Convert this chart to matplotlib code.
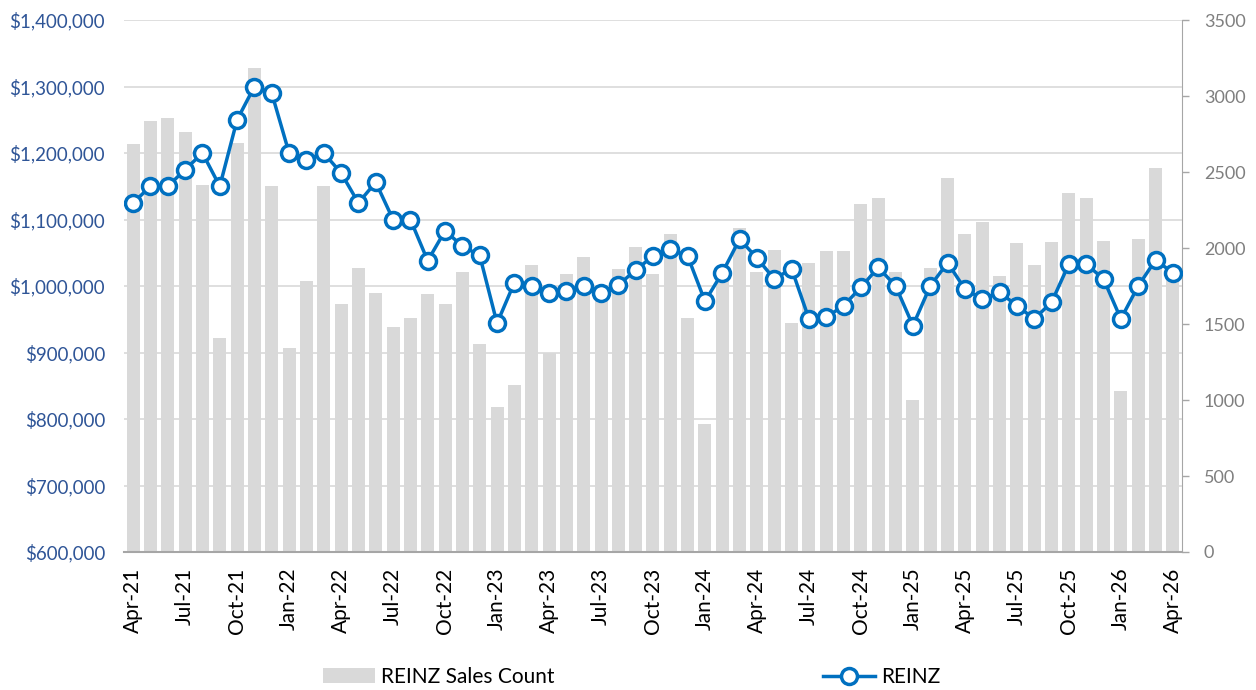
import matplotlib
matplotlib.use("Agg")
import matplotlib.pyplot as plt
from matplotlib.ticker import FuncFormatter, MultipleLocator
import pandas as pd

# ----------------------------
# Data
# ----------------------------
months = pd.date_range("2021-04-01", "2026-04-01", freq="MS").strftime("%b-%y").tolist()

sales_count = [2682, 2833, 2853, 2765, 2417, 1408, 2689, 3184, 2410, 1342, 1785, 2410,
               1632, 1871, 1706, 1480, 1537, 1697, 1629, 1842, 1368, 956, 1099, 1888,
               1310, 1829, 1943, 1720, 1864, 2009, 1827, 2090, 1542, 842, 1800, 2134,
               1844, 1987, 1504, 1903, 1982, 1980, 2289, 2329, 1842, 1000, 1866, 2458,
               2090, 2171, 1818, 2033, 1888, 2039, 2362, 2329, 2046, 1061, 2057, 2528,
               1800]

reinz_price = [1125000, 1150000, 1150000, 1175000, 1200000, 1150000, 1250000, 1300000,
               1290000, 1200000, 1190000, 1200000, 1170000, 1125000, 1156000, 1100000,
               1100000, 1038000, 1083000, 1060000, 1046000, 944000, 1005000, 1000000,
               990000, 993000, 1000000, 990000, 1001500, 1024000, 1045000, 1055000,
               1045000, 977000, 1020000, 1070500, 1042000, 1010500, 1026000, 950500,
               953000, 970500, 998000, 1028000, 1000000, 940500, 1000000, 1035000,
               995500, 980500, 990500, 970500, 950500, 975500, 1033000, 1033000,
               1010500, 950500, 1000000, 1039000, 1020000]

# ----------------------------
# Plot
# ----------------------------
plt.rcParams["font.family"] = ["Lato", "DejaVu Sans"]

fig = plt.figure(figsize=(12.56, 6.9), dpi=100)
ax = fig.add_axes([0.0991, 0.2, 0.8416, 0.771])
ax2 = ax.twinx()

x = list(range(len(months)))

ax2.bar(x, sales_count, width=0.75, color="#D9D9D9", label="REINZ Sales Count", zorder=2)
ax2.set_ylim(0, 3500)
ax2.yaxis.set_major_locator(MultipleLocator(500))

ax.plot(x, reinz_price, color="#0070C0", linewidth=2.5, marker="o", markersize=11.5,
        markerfacecolor="white", markeredgecolor="#0070C0", markeredgewidth=2.5,
        label="REINZ", zorder=3)
ax.set_ylim(600000, 1400000)
ax.yaxis.set_major_locator(MultipleLocator(100000))
ax.yaxis.set_major_formatter(FuncFormatter(lambda v, p: f"${v:,.0f}"))
ax.set_xlim(-0.5, len(months) - 0.5)

# line above bars
ax.set_zorder(ax2.get_zorder() + 1)
ax.patch.set_visible(False)

ax.grid(axis="y", color="#D9D9D9", linewidth=1.2)
ax.set_axisbelow(True)

ax.set_xticks(x[::3])
ax.set_xticklabels(months[::3], rotation=90, fontsize=15, color="black")
ax.tick_params(axis="x", length=0, pad=11)
ax.tick_params(axis="y", length=0, labelsize=13.5, labelcolor="#2F5597", pad=14)
ax2.tick_params(axis="y", length=5, width=1, color="#A6A6A6", labelsize=13,
                labelcolor="#7F7F7F", pad=11)

for a in (ax, ax2):
    for s in ("top", "left", "right", "bottom"):
        a.spines[s].set_visible(False)
ax2.spines["right"].set_visible(True)
ax2.spines["right"].set_color("#A6A6A6")
ax.spines["bottom"].set_visible(True)
ax.spines["bottom"].set_color("#A6A6A6")
ax.spines["bottom"].set_linewidth(1.5)

h1, l1 = ax2.get_legend_handles_labels()
h2, l2 = ax.get_legend_handles_labels()
fig.legend(h1 + h2, l1 + l2, loc="center", bbox_to_anchor=(0.503, 0.019), ncol=2,
           frameon=False, fontsize=15, handlelength=2.5, columnspacing=12.9,
           handletextpad=0.3)

fig.savefig("out.png", dpi=100)
